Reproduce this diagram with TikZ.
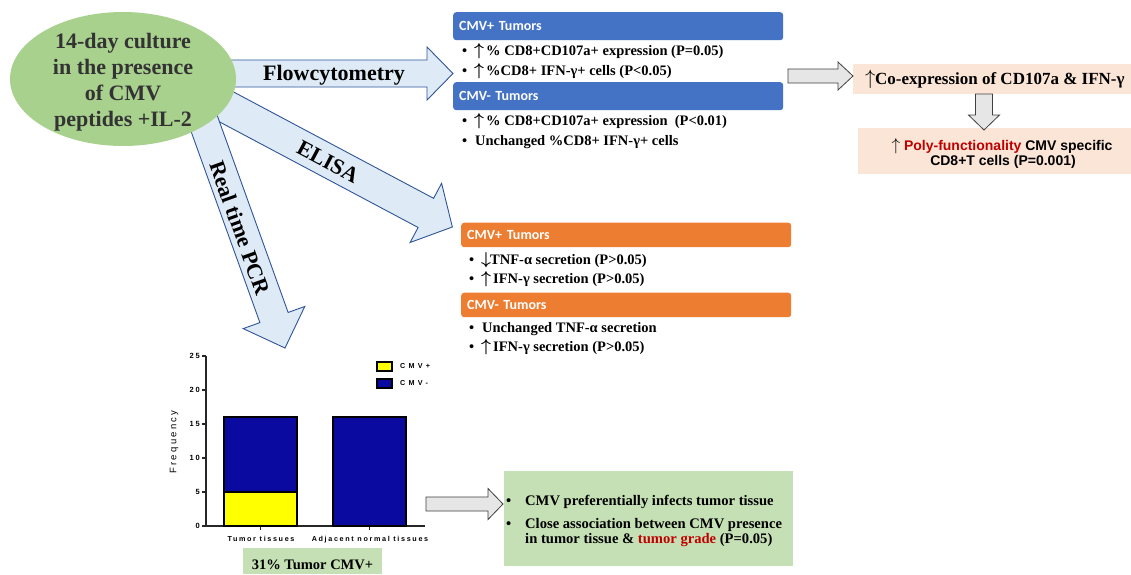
\documentclass[tikz,border=0pt]{standalone}
\usepackage{fontspec}
\setmainfont{Liberation Serif}
\newfontfamily\arialf{Liberation Sans}
\newfontfamily\calf{Carlito}
\newfontfamily\chartf[LetterSpace=23]{Liberation Sans}
\newfontfamily\legf[LetterSpace=45]{Liberation Sans}
\newfontfamily\freqf[LetterSpace=24]{Liberation Sans}
\usetikzlibrary{shapes.geometric}
\definecolor{arrowfill}{HTML}{DEEBF7}
\definecolor{arrowline}{HTML}{2F5597}
\definecolor{ellgreen}{HTML}{A9D18E}
\definecolor{hdrblue}{HTML}{4472C4}
\definecolor{hdrorange}{HTML}{ED7D31}
\definecolor{peach}{HTML}{FBE5D6}
\definecolor{boxgreen}{HTML}{C5E0B4}
\definecolor{grayfill}{HTML}{E7E6E6}
\definecolor{grayline}{HTML}{404040}
\definecolor{darkred}{HTML}{C00000}
\definecolor{cblue}{HTML}{0A0AA0}
\definecolor{cyellow}{HTML}{FFFF00}
\definecolor{txtgray}{HTML}{333333}
\newcommand{\blockarrow}[7]{%
\begin{scope}[shift={(#1)},rotate=#2]
\draw[#7] (0,-#4) -- ({#3-#6},-#4) -- ({#3-#6},-#5) -- (#3,0) -- ({#3-#6},#5) -- ({#3-#6},#4) -- (0,#4) -- cycle;
\end{scope}}
\newcommand{\uarr}{{\fontsize{16}{16}\selectfont\boldmath$\uparrow$}}
\newcommand{\darr}{{\fontsize{16}{16}\selectfont\boldmath$\downarrow$}}
\newcommand{\bl}[1]{\makebox[#1][l]{\textbullet}}
\newcommand{\sym}[2]{\makebox[#1][l]{#2}}
\begin{document}
\begin{tikzpicture}[x=1pt,y=-1pt,
  bluearrow/.style={fill=arrowfill,draw=arrowline,line width=0.9pt},
  grayarrow/.style={fill=grayfill,draw=grayline,line width=0.8pt},
  arrowlbl/.style={font=\fontsize{22}{24}\bfseries\selectfont,inner sep=0pt},
  hdr/.style={anchor=north west,rounded corners=3pt,text width=318pt,inner xsep=6pt,inner ysep=0pt,align=left,text=white,font=\calf\bfseries\fontsize{14}{16}\selectfont},
  bul/.style={anchor=base west,inner sep=0pt,font=\fontsize{14.5}{16}\bfseries\selectfont},
  bar/.style={draw=black,line width=1.6pt},
  axisline/.style={draw=black!85,line width=1.4pt},
  tick/.style={anchor=east,inner sep=0pt,font=\chartf\bfseries\fontsize{7.5}{8}\selectfont},
  cat/.style={anchor=base,inner sep=0pt,font=\chartf\bfseries\fontsize{7.2}{8}\selectfont},
  leg/.style={anchor=west,inner sep=0pt,font=\legf\bfseries\fontsize{7.2}{8}\selectfont},
]
\useasboundingbox (0,0) rectangle (1131,574);
\fill[white] (0,0) rectangle (1131,574);

% block arrows from the culture ellipse
\blockarrow{180,73.5}{0}{273}{13.5}{26.5}{26}{bluearrow}
\blockarrow{200,92.8}{-28}{285.8}{16.5}{33.5}{30}{bluearrow}
\blockarrow{195.7,100}{-70.2}{263.6}{15}{32.7}{32.4}{bluearrow}

\node[ellipse,fill=ellgreen,minimum width=226pt,minimum height=134pt,inner sep=0pt] (culture) at (123,79) {};
\node[font=\fontsize{22}{26}\bfseries\selectfont,align=center,text=txtgray,inner sep=0pt] (culturetxt) at (123,82) {14-day culture\\in the presence\\of CMV\\peptides +IL-2};

\node[arrowlbl] (flowlbl) at (334,75) {Flowcytometry};
\node[arrowlbl,rotate=-28] (elisalbl) at (328,162) {ELISA};
\node[arrowlbl,rotate=-70.2] (pcrlbl) at (240,228) {Real time PCR};

% flow cytometry results
\node[hdr,fill=hdrblue,minimum height=28pt] (fpos) at (453,12) {CMV+ Tumors};
\node[bul] (f1) at (462,55) {\bl{12pt}\sym{12pt}{\uarr}\% CD8+CD107a+ expression (P=0.05)};
\node[bul] (f2) at (462,75) {\bl{12pt}\sym{12pt}{\uarr}\%CD8+ IFN-γ+ cells (P<0.05)};
\node[hdr,fill=hdrblue,minimum height=28pt] (fneg) at (453,82) {CMV- Tumors};
\node[bul] (f3) at (462,125) {\bl{12pt}\sym{12pt}{\uarr}\% CD8+CD107a+ expression~ (P<0.01)};
\node[bul] (f4) at (462,145) {\bl{13pt}Unchanged \%CD8+ IFN-γ+ cells};

% ELISA results
\node[hdr,fill=hdrorange,minimum height=24.5pt] (epos) at (461,222.5) {CMV+ Tumors};
\node[bul] (e1) at (469,264) {\bl{12pt}\sym{9pt}{\darr}TNF-α secretion (P>0.05)};
\node[bul] (e2) at (469,283.5) {\bl{12pt}\sym{12pt}{\uarr}IFN-γ secretion (P>0.05)};
\node[hdr,fill=hdrorange,minimum height=24.5pt] (eneg) at (461,292.5) {CMV- Tumors};
\node[bul] (e3) at (469,332) {\bl{13pt}Unchanged TNF-α secretion};
\node[bul] (e4) at (469,351.5) {\bl{12pt}\sym{12pt}{\uarr}IFN-γ secretion (P>0.05)};

% right side
\node[fill=peach,anchor=north west,minimum width=278pt,minimum height=30pt,inner sep=0pt] (coexp) at (853,64) {};
\node[anchor=base west,inner sep=0pt,font=\fontsize{17}{19}\bfseries\selectfont] (coexptxt) at (865,84) {\sym{10pt}{\fontsize{22}{22}\selectfont$\uparrow$}Co-expression of CD107a \& IFN-γ};
\node[fill=peach,anchor=north west,minimum width=273pt,minimum height=46pt,inner sep=0pt] (poly) at (858,128) {};
\node[anchor=base,inner sep=0pt,font=\arialf\bfseries\fontsize{14}{15}\selectfont] (polyt1) at (1002,150) {{\mdseries\fontsize{16}{16}\selectfont$\uparrow$}\ \textcolor{darkred}{Poly-functionality} CMV specific};
\node[anchor=base,inner sep=0pt,font=\arialf\bfseries\fontsize{14}{15}\selectfont] (polyt2) at (1003,165) {CD8+T cells (P=0.001)};
\blockarrow{788,76}{0}{65}{7}{14}{15}{grayarrow}
\blockarrow{984,94}{-90}{36}{8.5}{15.5}{15}{grayarrow}

% chart
\draw[axisline] (206,356) -- (206,526) -- (425,526);
\foreach \v in {0,5,10,15,20,25}{
  \draw[axisline,line width=1.2pt] (202,{526-6.8*\v}) -- (206,{526-6.8*\v});
  \node[tick] (tk\v) at (200,{526-6.8*\v}) {\v};
}
\draw[axisline,line width=1.2pt] (260.5,526) -- (260.5,530);
\draw[axisline,line width=1.2pt] (369.5,526) -- (369.5,530);
\draw[bar,fill=cyellow] (224,526) rectangle (297,492);
\draw[bar,fill=cblue] (224,492) rectangle (297,417);
\draw[bar,fill=cblue] (333,526) rectangle (406,417);
\draw[bar,line width=1.2pt,fill=cyellow] (377,362) rectangle (392,371);
\draw[bar,line width=1.2pt,fill=cblue] (377,379) rectangle (392,388);
\node[leg] (legpos) at (400,366.5) {CMV+};
\node[leg] (legneg) at (400,383.5) {CMV-};
\node[rotate=90,inner sep=0pt,font=\freqf\fontsize{9.5}{10}\selectfont] (freq) at (174,442) {Frequency};
\node[cat] (cat1) at (261,541) {Tumor tissues};
\node[cat] (cat2) at (370,541) {Adjacent normal tissues};
\node[fill=boxgreen,anchor=north west,minimum width=139pt,minimum height=26pt,inner sep=0pt] (pct) at (243,548) {};
\node[anchor=base,inner sep=0pt,font=\fontsize{14.5}{16}\bfseries\selectfont] (pcttxt) at (312.5,569) {31\% Tumor CMV+};

% conclusion box
\blockarrow{426,504}{0}{77}{7}{15.5}{15}{grayarrow}
\node[fill=boxgreen,anchor=north west,minimum width=289pt,minimum height=95pt,inner sep=0pt] (concl) at (504,471) {};
\node[anchor=base west,inner sep=0pt,font=\fontsize{14.6}{15}\bfseries\selectfont] (c1) at (506,505) {\bl{19pt}CMV preferentially infects tumor tissue};
\node[anchor=base west,inner sep=0pt,font=\fontsize{14.6}{15}\bfseries\selectfont] (c2) at (506,528) {\bl{19pt}Close association between CMV presence};
\node[anchor=base west,inner sep=0pt,font=\fontsize{14.6}{15}\bfseries\selectfont] (c3) at (525,543) {in tumor tissue \& \textcolor{darkred}{tumor grade} (P=0.05)};
\end{tikzpicture}
\end{document}
